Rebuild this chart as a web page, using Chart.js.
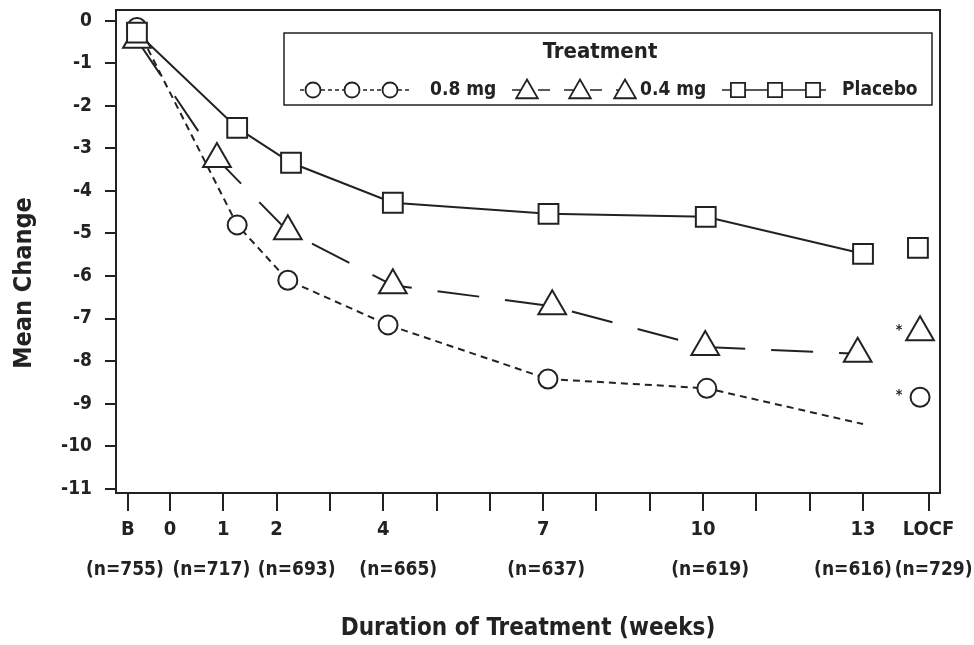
<!DOCTYPE html>
<html><head><meta charset="utf-8">
<script src="https://cdn.jsdelivr.net/npm/chart.js@4.4.1/dist/chart.umd.min.js"></script>
<style>html,body{margin:0;padding:0;background:#fff;}#wrap{width:974px;height:645px;position:relative;}</style>
</head><body><div id="wrap"><canvas id="c"></canvas></div>
<script>
// ---------- data ----------
const seriesNames = ['0.8 mg', '0.4 mg', 'Placebo'];
const timepoints  = ['B', '1', '2', '4', '7', '10', '13', 'LOCF'];
const nCounts     = ['(n=755)', '(n=717)', '(n=693)', '(n=665)', '(n=637)', '(n=619)', '(n=616)', '(n=729)'];
// x = week (B and LOCF sit outside the week range)
const x08 = [-0.62, 1.26, 2.21, 4.09, 7.09, 10.07, 13.0, 14.07];
const x04 = [-0.62, 0.88, 2.21, 4.18, 7.17, 10.04, 12.9, 14.07];
const xPl = [-0.62, 1.26, 2.27, 4.18, 7.10, 10.05, 13.0, 14.03];
const y08 = [-0.16, -4.80, -6.10, -7.15, -8.42, -8.64, -9.48, -8.85];
const y04 = [-0.45, -3.25, -4.95, -6.22, -6.71, -7.67, -7.83, -7.32];
const yPl = [-0.28, -2.52, -3.34, -4.28, -4.54, -4.61, -5.48, -5.34];
const xTickValues = [-0.79, 0, 1, 2, 3, 4, 5, 6, 7, 8, 9, 10, 11, 12, 13, 14.23];
const xTickLabels = ['B', '0', '1', '2', '', '4', '', '', '7', '', '', '10', '', '', '13', 'LOCF'];
const yTickValues = [0, -1, -2, -3, -4, -5, -6, -7, -8, -9, -10, -11];
const nLabelWeeks = [-0.79, 1, 2, 4, 7, 10, 13, 14.23];
const starred = ['0.8 mg', '0.4 mg'];

// ---------- style ----------
const FONT = '"Liberation Sans Narrow", "Arial Narrow", "DejaVu Sans Condensed", sans-serif';
const INK = '#222';
const nNudge = [-3, -12, 20, 15, 3, 7, -10, 5];

function pts(xs, ys) { return xs.map((x, i) => ({x: x, y: ys[i]})); }
const lastIdx = timepoints.length - 1;
function seg(color) {
  return { borderColor: c => c.p1DataIndex === lastIdx ? 'rgba(0,0,0,0)' : color };
}
const styles = [
  {pointStyle: 'circle', radius: 9.5, dash: [7, 5], hide: [6], lr: 7.5, ldash: [4, 3], order: 2},
  {pointStyle: 'triangle', radius: 16, dash: [42, 26], hide: [], lr: 12.5, ldash: [12, 14], order: 1},
  {pointStyle: 'rect', radius: 14, dash: [], hide: [], lr: 10, ldash: [], order: 0}
];
const xs = [x08, x04, xPl], ys = [y08, y04, yPl];
const datasets = seriesNames.map((name, k) => ({
  label: name,
  data: pts(xs[k], ys[k]),
  order: styles[k].order,
  borderColor: INK,
  borderWidth: 2,
  borderDash: styles[k].dash,
  pointStyle: styles[k].pointStyle,
  pointRadius: c => styles[k].hide.includes(c.dataIndex) ? 0 : styles[k].radius,
  pointBorderWidth: 2,
  pointBorderColor: INK,
  pointBackgroundColor: '#fff',
  pointHoverRadius: c => styles[k].hide.includes(c.dataIndex) ? 0 : styles[k].radius,
  segment: seg(INK),
  tension: 0,
  fill: false
}));

const decor = {
  id: 'decor',
  beforeDatasetsDraw(chart) {
    const {ctx, chartArea: a} = chart;
    ctx.save();
    ctx.strokeStyle = INK; ctx.lineWidth = 2;
    ctx.strokeRect(a.left, a.top, a.right - a.left, a.bottom - a.top);
    ctx.restore();
  },
  afterDraw(chart) {
    const {ctx} = chart;
    const xScale = chart.scales.x;
    ctx.save();
    ctx.fillStyle = INK;
    // n labels
    ctx.font = 'bold 19px ' + FONT;
    ctx.textAlign = 'center'; ctx.textBaseline = 'middle';
    nCounts.forEach((t, i) => {
      ctx.fillText(t, xScale.getPixelForValue(nLabelWeeks[i]) + nNudge[i], 570);
    });
    // y title
    ctx.save();
    ctx.translate(24, 283); ctx.rotate(-Math.PI / 2);
    ctx.font = 'bold 25px ' + FONT;
    ctx.fillText('Mean Change', 0, 0);
    ctx.restore();
    // asterisks beside LOCF points
    ctx.font = 'bold 14px ' + FONT;
    chart.data.datasets.forEach((ds, k) => {
      if (!starred.includes(ds.label)) return;
      const el = chart.getDatasetMeta(k).data[lastIdx];
      ctx.fillText('*', el.x - 21, el.y - 2);
    });
    // legend box
    ctx.strokeStyle = INK; ctx.lineWidth = 1.5;
    ctx.strokeRect(284, 33, 648, 72);
    ctx.font = 'bold 22px ' + FONT;
    ctx.fillText('Treatment', 600, 52);
    const rowY = 90;
    const items = [
      {line: [300, 412], marks: [313, 352, 390], text: 430},
      {line: [512, 634], marks: [527, 580, 625], text: 640},
      {line: [722, 826], marks: [738, 775, 813], text: 842}
    ];
    items.forEach((it, k) => {
      const st = styles[k];
      ctx.save();
      ctx.strokeStyle = INK; ctx.lineWidth = 1.5;
      ctx.setLineDash(st.ldash);
      ctx.beginPath(); ctx.moveTo(it.line[0], rowY); ctx.lineTo(it.line[1], rowY); ctx.stroke();
      ctx.setLineDash([]);
      ctx.fillStyle = '#fff'; ctx.lineWidth = 1.8;
      it.marks.forEach(mx => {
        Chart.helpers.drawPoint(ctx, {pointStyle: st.pointStyle, radius: st.lr, borderWidth: 1.8, rotation: 0},
          mx, st.pointStyle === 'triangle' ? rowY + 2 : rowY);
      });
      ctx.restore();
      ctx.textAlign = 'left';
      ctx.font = 'bold 19px ' + FONT;
      ctx.fillText(seriesNames[k], it.text, rowY);
    });
    ctx.restore();
  }
};

new Chart(document.getElementById('c'), {
  type: 'line',
  data: {datasets: datasets},
  options: {
    responsive: true, maintainAspectRatio: false, animation: false,
    layout: {autoPadding: false, padding: {top: 10, right: 34, left: 0, bottom: 0}},
    plugins: {legend: {display: false}, tooltip: {enabled: false}},
    scales: {
      x: {
        type: 'linear', min: -1.013, max: 14.444,
        afterBuildTicks: s => { s.ticks = xTickValues.map(v => ({value: v})); },
        afterFit: s => { s.height = 152; s.paddingLeft = 0; s.paddingRight = 0; },
        ticks: {
          autoSkip: false, maxRotation: 0, padding: 7, color: INK,
          font: {family: FONT, size: 20, weight: 'bold'},
          callback: (v, i) => xTickLabels[i]
        },
        grid: {drawOnChartArea: false, color: INK, lineWidth: 2, tickLength: 18},
        border: {display: true, color: INK, width: 2},
        title: {display: true, text: 'Duration of Treatment (weeks)', color: INK,
          font: {family: FONT, size: 24, weight: 'bold'}, padding: {top: 0, bottom: 2}}
      },
      y: {
        type: 'linear', min: -11.1, max: 0.25,
        afterBuildTicks: s => { s.ticks = yTickValues.map(v => ({value: v})); },
        afterFit: s => { s.width = 116; s.paddingTop = 0; s.paddingBottom = 0; },
        ticks: {padding: 13, color: INK, font: {family: FONT, size: 19, weight: 'bold'},
          callback: v => String(v)},
        grid: {drawOnChartArea: false, color: INK, lineWidth: 2, tickLength: 11},
        border: {display: true, color: INK, width: 2}
      }
    }
  },
  plugins: [decor]
});
</script></body></html>
